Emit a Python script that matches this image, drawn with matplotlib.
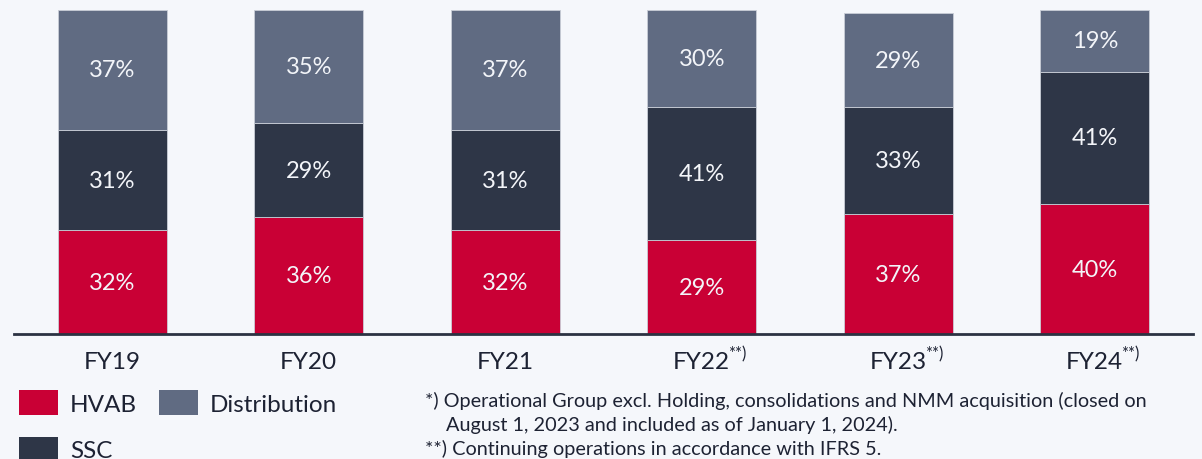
import numpy as np
import matplotlib
matplotlib.use("Agg")
import matplotlib.pyplot as plt

# Data (share of revenue, %)
years = ["FY19", "FY20", "FY21", "FY22", "FY23", "FY24"]
year_marks = ["", "", "", "**)", "**)", "**)"]
hvab = [32, 36, 32, 29, 37, 40]
ssc = [31, 29, 31, 41, 33, 41]
distribution = [37, 35, 37, 30, 29, 19]

footnotes = [
    "*) Operational Group excl. Holding, consolidations and NMM acquisition (closed on",
    "August 1, 2023 and included as of January 1, 2024).",
    "**) Continuing operations in accordance with IFRS 5.",
]

# Colours
BG = "#f5f7fb"
RED = "#c90035"
DARK = "#2e3647"
GREY = "#606b82"
TEXT = "#1d2233"

plt.rcParams["font.family"] = ["Lato", "DejaVu Sans"]

W, H = 1202, 460
fig = plt.figure(figsize=(W / 100, H / 100), dpi=100, facecolor=BG)
ax = fig.add_axes([14 / W, (H - 335) / H, 1179 / W, 324 / H], facecolor=BG)

x = np.arange(len(years))
width = 0.555
series = [("HVAB", hvab, RED), ("SSC", ssc, DARK), ("Distribution", distribution, GREY)]
bottom = np.zeros(len(years))
handles = {}
for name, vals, col in series:
    vals = np.array(vals, dtype=float)
    bars = ax.bar(x, vals, width, bottom=bottom, color=col, edgecolor="#c9cdd6",
                  linewidth=0.6, label=name)
    handles[name] = bars
    for xi, b, v in zip(x, bottom, vals):
        ax.text(xi, b + v / 2, f"{v:.0f}%", ha="center", va="center",
                color="#f3f5f9", fontsize=17)
    bottom += vals

ax.set_xlim(-0.5, 5.5)
ax.set_ylim(0, 100)
for s in ["top", "right", "left"]:
    ax.spines[s].set_visible(False)
ax.spines["bottom"].set_color("#2b3242")
ax.spines["bottom"].set_linewidth(2)
ax.set_yticks([])
ax.set_xticks(x)
ax.set_xticklabels(years, fontsize=17.5, color=TEXT)
ax.tick_params(axis="x", length=0, pad=12)

# superscript marks after the tick labels
fig.canvas.draw()
renderer = fig.canvas.get_renderer()
inv = fig.transFigure.inverted()
for lab, mark in zip(ax.get_xticklabels(), year_marks):
    if not mark:
        continue
    bb = lab.get_window_extent(renderer)
    fx, fy = inv.transform((bb.x1 - 2, bb.y1 + 5))
    fig.text(fx, fy, mark, fontsize=12, color=TEXT, ha="left", va="top")

leg = fig.legend([handles["HVAB"], handles["SSC"], handles["Distribution"]],
                 ["HVAB", "SSC", "Distribution"], ncol=2, frameon=False,
                 loc="upper left", bbox_to_anchor=(19 / W, 1 - 391 / H),
                 fontsize=17.5, handlelength=1.6, handleheight=1.2,
                 handletextpad=0.5, columnspacing=0.9, labelspacing=0.9,
                 borderpad=0, borderaxespad=0)
for t in leg.get_texts():
    t.set_color(TEXT)
for p in leg.get_patches():
    p.set_edgecolor("none")

fig.text(425 / W, 1 - 401 / H, footnotes[0], fontsize=14.3, color=TEXT, va="center")
fig.text(446 / W, 1 - 425 / H, footnotes[1], fontsize=14.3, color=TEXT, va="center")
fig.text(425 / W, 1 - 449 / H, footnotes[2], fontsize=14.3, color=TEXT, va="center")

fig.savefig("out.png", dpi=100, facecolor=BG)
